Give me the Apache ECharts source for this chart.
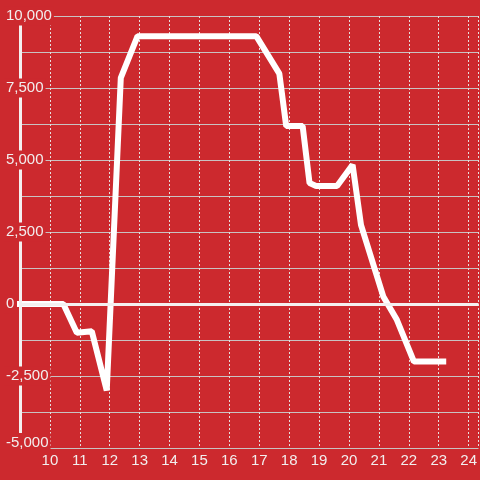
<!DOCTYPE html>
<html>
<head>
<meta charset="utf-8">
<script src="https://cdn.jsdelivr.net/npm/echarts@6/dist/echarts.min.js"></script>
<style>
  html, body { margin: 0; padding: 0; background: #cc292e; }
  #chart { width: 480px; height: 480px; }
</style>
</head>
<body>
<div id="chart"></div>
<script>
// hour of day -> value
const hours = [8.9, 10.45, 10.9, 11.4, 11.9, 12.37, 12.93, 16.9, 17.67, 17.9, 18.45, 18.68, 18.9, 19.6, 20.12, 20.4, 21.15, 21.6, 22.17, 23.25];
const values = [0, 0, -1000, -950, -3000, 7850, 9300, 9300, 8000, 6180, 6180, 4200, 4100, 4100, 4830, 2750, 250, -550, -2000, -2000];

const bg = '#cc292e';
const textColor = '#f2eeee';
const font = 'Liberation Sans';

const chart = echarts.init(document.getElementById('chart'));

const points = hours.map((h, i) => [h, values[i]]);

const xBase = {
  type: 'value',
  position: 'bottom',
  min: 9,
  max: 24.33,
  interval: 1,
  axisLine: { show: false },
  axisTick: { show: false }
};

const option = {
  backgroundColor: bg,
  animation: false,
  grid: { left: 20, right: 0, top: 16, bottom: 32 },
  xAxis: [
    Object.assign({}, xBase, {
      // dotted verticals, below the line
      axisLabel: { show: false },
      splitLine: {
        show: true,
        lineStyle: { color: '#e6dede', width: 1, type: [2, 2] }
      }
    }),
    Object.assign({}, xBase, {
      // hour labels, above everything
      z: 6,
      splitLine: { show: false },
      axisLabel: {
        color: textColor,
        fontSize: 15,
        fontFamily: font,
        margin: 5,
        showMinLabel: false,
        showMaxLabel: false
      }
    })
  ],
  yAxis: [
    {
      // grid lines only
      type: 'value',
      min: -5000,
      max: 10000,
      interval: 2500,
      axisLine: { show: false },
      axisTick: { show: false },
      axisLabel: { show: false },
      minorTick: { show: false, splitNumber: 2 },
      splitLine: { show: true, lineStyle: { color: '#c9c2c2', width: 1 } },
      minorSplitLine: { show: true, lineStyle: { color: '#c9c2c2', width: 1 } }
    },
    {
      // axis line + labels on top
      type: 'value',
      position: 'left',
      z: 5,
      min: -5000,
      max: 10000,
      interval: 2500,
      axisLine: { show: true, lineStyle: { color: '#f4f0f0', width: 3 } },
      axisTick: { show: false },
      splitLine: { show: false },
      axisLabel: {
        align: 'left',
        margin: 16,
        color: textColor,
        fontSize: 15,
        fontFamily: font,
        backgroundColor: bg,
        padding: [2, 2, 2, 2],
        formatter: v => {
          const s = v.toLocaleString('en-US');
          return v === -5000 ? '{low|' + s + '}' : s;
        },
        rich: {
          low: { fontSize: 15, fontFamily: font, color: textColor, padding: [0, 0, 11, 0] }
        }
      }
    }
  ],
  series: [
    {
      type: 'line',
      data: points,
      xAxisIndex: 0,
      yAxisIndex: 0,
      symbol: 'none',
      lineStyle: { color: '#ffffff', width: 6 },
      markLine: {
        silent: true,
        symbol: 'none',
        label: { show: false },
        lineStyle: { color: '#f4f0f0', width: 3, type: 'solid' },
        data: [{ yAxis: 0 }]
      }
    }
  ]
};

chart.setOption(option);
</script>
</body>
</html>
